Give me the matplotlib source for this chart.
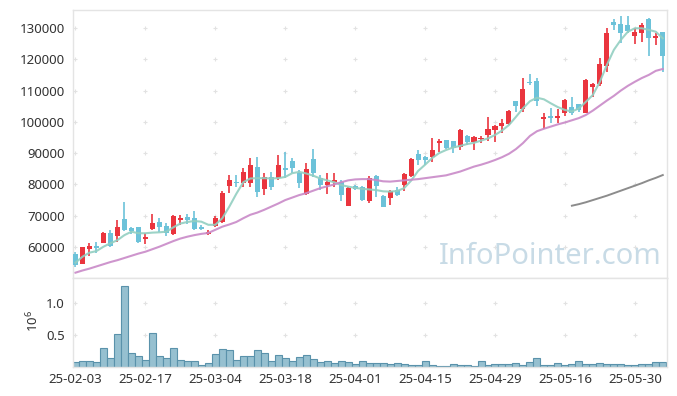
import numpy as np
import pandas as pd
import matplotlib
matplotlib.use("Agg")
import matplotlib.pyplot as plt

plt.rcParams["font.family"] = ["Noto Sans", "DejaVu Sans"]
plt.rcParams["mathtext.default"] = "regular"

# 거래일 (휴장일 제외)
holidays = ["2025-03-03", "2025-05-01", "2025-05-05", "2025-05-06", "2025-06-03", "2025-06-06"]
dates = pd.bdate_range("2025-02-03", "2025-06-09", freq="C", holidays=holidays)

opens = np.array([
    57800, 54600, 59400, 60300, 61400, 64600, 63500, 68900, 66000, 66300,
    62600, 65800, 67900, 66700, 64200, 68600, 69500, 69200, 66300, 64300,
    66700, 68100, 79600, 80900, 80600, 80400, 85700, 78600, 82300, 82000,
    85200, 87600, 83600, 77000, 88000, 82000, 79900, 80800, 80900, 73100,
    79500, 79100, 74800, 82700, 76300, 75800, 78200, 79800, 82800, 89700,
    88700, 88700, 93200, 94200, 93900, 91900, 95500, 93700, 94500, 95800,
    97400, 98800, 99300, 106800, 104000, 112800, 113000, 101000, 101900, 101300,
    102700, 104700, 105600, 102900, 111200, 112100, 117900, 131800, 131300, 131000,
    127400, 128500, 132800, 126900, 128800])
highs = np.array([
    58500, 59900, 61200, 61700, 64900, 65400, 68600, 74500, 66300, 66500,
    64400, 70500, 69200, 67600, 70200, 70200, 70500, 71600, 67000, 65500,
    69900, 78000, 83000, 83000, 85200, 88400, 88900, 83600, 84100, 89400,
    90500, 88400, 84600, 86800, 91200, 83000, 83600, 83600, 81400, 79300,
    79800, 79500, 82700, 83000, 76600, 78200, 79100, 83800, 88400, 91000,
    89100, 94800, 94400, 94200, 93900, 97600, 95800, 95500, 95500, 101500,
    99000, 100800, 103800, 106800, 113900, 115300, 113900, 102700, 104300, 104200,
    107400, 108100, 105700, 113800, 112300, 120300, 129900, 132800, 133800, 133800,
    129900, 131500, 133100, 128300, 128800])
lows = np.array([
    53700, 54600, 57100, 58200, 61200, 59900, 61500, 65200, 64200, 61200,
    61000, 65400, 64900, 63500, 63800, 67000, 67200, 65400, 65400, 63800,
    66300, 67600, 77200, 79300, 79300, 79300, 76100, 76600, 78200, 81400,
    82000, 83600, 78800, 76600, 82500, 78200, 77000, 79100, 74800, 73100,
    78200, 74800, 74000, 76100, 72900, 73400, 76300, 78000, 82500, 86200,
    86200, 87300, 90500, 91200, 90000, 91000, 92600, 91000, 93300, 94000,
    93700, 96500, 99000, 103300, 103300, 111800, 105000, 97600, 99500, 99500,
    101900, 102200, 103300, 102700, 107900, 111500, 116000, 129400, 125100, 128300,
    124900, 125600, 121100, 124600, 116000])
closes = np.array([
    54300, 59900, 60300, 59800, 64600, 60300, 66500, 65400, 65200, 61700,
    63200, 67800, 66500, 64600, 69900, 69200, 68700, 65800, 65800, 64900,
    69200, 77400, 81400, 80500, 84000, 86200, 77700, 82300, 79300, 86200,
    84600, 85200, 80400, 84800, 83600, 79800, 80900, 81400, 76600, 78800,
    78600, 75000, 82000, 79500, 72900, 77900, 76600, 83300, 88000, 87800,
    87800, 91000, 94000, 91600, 91600, 97400, 93700, 95100, 94900, 97600,
    98700, 99500, 103600, 105100, 110400, 112300, 106800, 101600, 101300, 102000,
    107000, 102900, 103800, 113400, 112100, 118500, 128300, 131000, 128500, 129100,
    128800, 131000, 126700, 127500, 121200])

ma5 = np.array([
    55000, 56900, 58200, 58700, 60100, 61200, 62200, 63800, 64900, 64400,
    64400, 64600, 64700, 64900, 66300, 67500, 68000, 68300, 68100, 67100,
    67100, 69200, 72900, 77000, 80700, 81900, 82000, 82000, 81900, 82000,
    82400, 83600, 84000, 83500, 82800, 81900, 81300, 80700, 79800, 79300,
    78900, 78600, 78400, 78200, 77800, 77700, 77900, 78800, 81200, 84300,
    86300, 88400, 90000, 91000, 91800, 92300, 92900, 93300, 94000, 94700,
    95800, 97200, 99000, 101600, 104300, 106600, 107700, 107200, 105900, 104700,
    103800, 103300, 104300, 106400, 108600, 112800, 118200, 123000, 126200, 128800,
    129900, 129900, 129400, 128800, 126700])
ma20 = np.array([
    51800, 52500, 53100, 53800, 54500, 55200, 55800, 56500, 57200, 57900,
    58500, 59300, 60100, 61000, 61900, 62700, 63300, 63800, 64200, 64500,
    65500, 66500, 67200, 68000, 69200, 70300, 71000, 71900, 72900, 73900,
    75000, 75800, 76600, 77200, 78000, 78800, 79400, 80000, 80700, 81300,
    81600, 81700, 81700, 81400, 81000, 80900, 81100, 81300, 81500, 81700,
    82000, 82300, 82600, 82900, 83500, 84100, 84900, 85700, 86300, 87000,
    87800, 88700, 89800, 91300, 93200, 95500, 97000, 97800, 98500, 99200,
    99800, 100500, 101200, 102200, 103600, 105200, 106800, 108300, 110000, 111500,
    112800, 114000, 115000, 116300, 116900])
# 장기 이동평균 (마지막 14거래일만 표시)
ma_long = np.array([
    73200, 73700, 74300, 75000, 75700, 76400, 77200, 78000, 78800, 79600,
    80400, 81300, 82100, 83000])

volumes = np.array([
    82000, 97000, 97000, 82000, 294000, 139000, 510000, 1257000, 216000, 170000,
    108000, 525000, 170000, 139000, 294000, 108000, 97000, 97000, 31000, 62000,
    201000, 278000, 263000, 108000, 170000, 170000, 263000, 216000, 97000, 185000,
    139000, 97000, 155000, 185000, 124000, 82000, 97000, 62000, 97000, 82000,
    46000, 87000, 62000, 62000, 62000, 46000, 62000, 46000, 31000, 31000,
    87000, 31000, 15000, 15000, 46000, 31000, 31000, 15000, 87000, 31000,
    46000, 46000, 46000, 62000, 31000, 77000, 139000, 31000, 31000, 62000,
    31000, 46000, 87000, 46000, 46000, 62000, 46000, 46000, 46000, 31000,
    31000, 46000, 46000, 77000, 82000])

price_ticks = [60000, 70000, 80000, 90000, 100000, 110000, 120000, 130000]
vol_ticks = [0.5e6, 1.0e6]
vol_labels = ["0.5", "1.0"]

RED = "#ea353e"
BLUE = "#6cc2d9"
EDGE = "#e4e4e4"
GRID = "#e2e2e2"
TXT = "#333333"

fig = plt.figure(figsize=(6.77, 3.96), dpi=100)
ax = fig.add_axes([0.1078, 0.298, 0.8774, 0.6768])
ax2 = fig.add_axes([0.1078, 0.0732, 0.8774, 0.2247], sharex=ax)

x = np.arange(len(closes))
up = closes >= opens
colors = np.where(up, RED, BLUE)

# 캔들
ax.vlines(x, lows, highs, colors=colors, linewidth=1.2, zorder=2)
body_lo = np.minimum(opens, closes)
body_h = np.maximum(np.abs(closes - opens), 300)
ax.bar(x, body_h, bottom=body_lo, width=0.72, color=colors, linewidth=0, zorder=3)

# 이동평균선
ax.plot(x, ma5, color="#92cfc1", lw=1.5, alpha=0.9, zorder=4)
ax.plot(x, ma20, color="#c98ac8", lw=1.5, alpha=0.9, zorder=4)
ax.plot(x[-len(ma_long):], ma_long, color="#8c8c8c", lw=1.4, zorder=4)

# 거래량
ax2.bar(x, volumes, width=1.0, color="#96c0d0", edgecolor="#5a92ab", linewidth=0.8, zorder=2)

xt = np.arange(0, len(dates), 10)
ax.set_xlim(-0.36, 84.6)
ax.set_ylim(50100, 135750)
ax.set_yticks(price_ticks)
ax.set_yticklabels([str(v) for v in price_ticks])
ax2.set_ylim(0, 1.38e6)
ax2.set_yticks(vol_ticks)
ax2.set_yticklabels(vol_labels)
ax2.set_xticks(xt)
ax2.set_xticklabels([dates[i].strftime("%y-%m-%d") for i in xt])

# + 모양 격자
for a, ys in ((ax, price_ticks), (ax2, vol_ticks)):
    gx, gy = np.meshgrid(xt, ys)
    a.plot(gx.ravel(), gy.ravel(), ls="none", marker="+", ms=3.5, mew=0.8, color=GRID, zorder=0)
    for s in a.spines.values():
        s.set_color(EDGE)
        s.set_linewidth(1.0)
    a.tick_params(length=0, labelsize=9.5, labelcolor=TXT)
ax.tick_params(axis="y", pad=6)
ax2.tick_params(axis="y", pad=6)
ax2.tick_params(axis="x", pad=4)
ax.tick_params(axis="x", labelbottom=False)

fig.text(33 / 677, 1 - 321 / 396, r"$10^6$", rotation=90, ha="center", va="center",
         fontsize=9.5, color=TXT)

ax.text(0.803, 0.082, "InfoPointer.com", transform=ax.transAxes, ha="center", va="center",
        fontsize=21, color="#c8dbe6", zorder=1)

fig.savefig("out.png", dpi=100)
